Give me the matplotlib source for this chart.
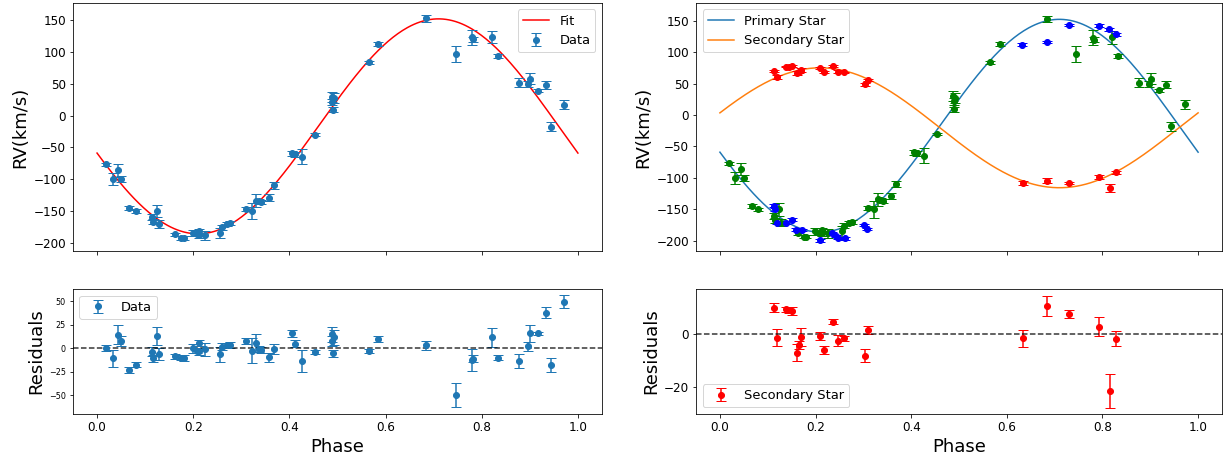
#%%
# =============== RV curve + residuals, primary fit and SB2 fit

import matplotlib.pyplot as plt
import numpy as np

#%%
# primary star data (phase, RV km/s, error, residual from fit)
phase = [0.019, 0.0325, 0.0436, 0.050, 0.067, 0.080, 0.114, 0.1156, 0.1246, 0.128,
         0.1627, 0.175, 0.181, 0.199, 0.2077, 0.2125, 0.213, 0.225, 0.2554, 0.260,
         0.270, 0.2755, 0.309, 0.322, 0.3305, 0.336, 0.341, 0.357, 0.369, 0.405,
         0.4115, 0.4265, 0.4535, 0.488, 0.4895, 0.4925, 0.4903, 0.565, 0.585, 0.685,
         0.7456, 0.780, 0.782, 0.8203, 0.833, 0.877, 0.897, 0.9006, 0.918, 0.933,
         0.943, 0.972]
rv = [-77, -100, -86, -100, -145, -150, -160, -167, -150, -171,
      -187, -193, -193, -185, -187, -182, -188, -188, -185, -176,
      -171, -169.5, -147.5, -150, -134, -135, -136, -129, -110, -59,
      -61, -65, -30, 29.5, 21.7, 27, 9, 83.5, 112.8, 152.6,
      96.6, 122.8, 119.6, 123.3, 94, 51.5, 49.4, 57.8, 39, 48.4,
      -17.6, 17]
rv_err = [3, 9, 10, 5, 3, 3, 5, 4, 10, 6,
          3, 3, 3, 5, 3, 3, 4, 7, 8, 4,
          3, 3, 3, 13, 10, 3, 3, 5, 5, 4,
          4, 12, 2, 8, 5, 8, 4, 2, 3, 5,
          13, 12, 4, 10, 3, 7, 5, 9, 2, 6,
          7, 7]
resid = [0.5, -10.8, 14.3, 7.6, -23.5, -17.5, -3.7, -10.8, 12.9, -6.2,
         -8.7, -10, -10.5, 0, -2.6, 5.5, -3.4, -1, -6.5, 1.6,
         3, 3.7, 7.6, -2.6, 5.5, -0.5, -2, -9.7, -1, 15.7,
         5, -13.5, -4.4, 15, 7.6, 11.5, -5.5, -2.6, 10, 3,
         -50, -12.5, -11.1, 11.5, -10, -13.6, 2, 16, 15.7, 37.7,
         -17.8, 49.3]

# second primary data set (blue in SB2 panel)
phase_b = [0.113, 0.116, 0.120, 0.139, 0.151, 0.160, 0.172, 0.209, 0.235, 0.242,
           0.247, 0.261, 0.301, 0.308, 0.632, 0.685, 0.730, 0.792, 0.814, 0.829]
rv_b = [-144, -150, -171, -171, -166, -182, -183, -199, -188, -192,
        -195, -196, -175, -181, 112, 116, 143, 142, 136, 128]
rv_b_err = [2] * len(phase_b)

# secondary star
phase_s = [0.114, 0.119, 0.139, 0.144, 0.151, 0.161, 0.165, 0.170, 0.210, 0.217,
           0.236, 0.246, 0.260, 0.304, 0.309, 0.633, 0.685, 0.730, 0.793, 0.815,
           0.829]
rv_s = [70, 61, 76.5, 77, 78, 66, 68, 71.5, 74.5, 69,
        78, 69, 68, 49, 56, -107.7, -104.5, -107.7, -98, -115.5,
        -91]
rv_s_err = [1.8, 3.3, 1, 1, 1.5, 3.2, 1.5, 3.5, 1.5, 1.5,
            1, 2, 1, 2.5, 1.5, 3.1, 3.75, 1.6, 3.5, 6.3,
            2.8]
resid_s = [10, -1.25, 9.4, 9.1, 8.6, -6.9, -3.9, -1, -0.6, -6,
           4.75, -2.4, -1.6, -8.1, 1.6, -1.6, 10.75, 7.6, 2.9, -21.4,
           -1.75]

# fit parameters
gamma1, K1 = -17, 169
gamma2, K2 = -20.25, 95.25
phi_max = 0.71

#%%
ph = np.linspace(0, 1, 300)
fit1 = gamma1 + K1*np.cos(2*np.pi*(ph - phi_max))
fit2 = gamma2 - K2*np.cos(2*np.pi*(ph - phi_max))

dpi = 72
fig = plt.figure(figsize=(1231/dpi, 457/dpi), dpi=dpi)
ax1 = fig.add_axes([0.0593, 0.4508, 0.4297, 0.5427])
ax2 = fig.add_axes([0.0593, 0.0941, 0.4297, 0.2735])
ax3 = fig.add_axes([0.5654, 0.4508, 0.4273, 0.5427])
ax4 = fig.add_axes([0.5654, 0.0941, 0.4273, 0.2735])

# ====== left: single fit
ax1.plot(ph, fit1, 'r', label='Fit')
ax1.errorbar(phase, rv, yerr=rv_err, fmt='o', capsize=5, label='Data')
ax1.set_ylabel('RV(km/s)', fontsize=18)
ax1.set_ylim((-213, 177))
ax1.set_yticks(np.arange(-200, 151, 50))
ax1.set_xlim((-0.05, 1.05))
ax1.tick_params(labelbottom=False, labelsize=12)
ax1.legend(loc='upper right', fontsize=13)

ax2.errorbar(phase, resid, yerr=rv_err, fmt='o', capsize=5, label='Data')
ax2.axhline(0, color='k', ls='--', lw=1.5, alpha=0.8)
ax2.set_ylabel('Residuals', fontsize=18)
ax2.set_xlabel('Phase', fontsize=18)
ax2.set_ylim((-70, 63))
ax2.set_yticks([-50, -25, 0, 25, 50])
ax2.set_xlim((-0.05, 1.05))
ax2.tick_params(axis='y', labelsize=8)
ax2.tick_params(axis='x', labelsize=12)
ax2.legend(loc='upper left', fontsize=13)

# ====== right: SB2
ax3.plot(ph, fit1, 'C0', label='Primary Star')
ax3.plot(ph, fit2, 'C1', label='Secondary Star')
ax3.errorbar(phase, rv, yerr=rv_err, fmt='o', color='g', capsize=5)
ax3.errorbar(phase_b, rv_b, yerr=rv_b_err, fmt='o', color='b', capsize=5)
ax3.errorbar(phase_s, rv_s, yerr=rv_s_err, fmt='o', color='r', capsize=5)
ax3.set_ylabel('RV(km/s)', fontsize=18)
ax3.set_ylim((-216, 178))
ax3.set_yticks(np.arange(-200, 151, 50))
ax3.set_xlim((-0.05, 1.05))
ax3.tick_params(labelbottom=False, labelsize=12)
ax3.legend(loc='upper left', fontsize=13)

ax4.errorbar(phase_s, resid_s, yerr=rv_s_err, fmt='o', color='r', capsize=5, label='Secondary Star')
ax4.axhline(0, color='k', ls='--', lw=1.5, alpha=0.8)
ax4.set_ylabel('Residuals', fontsize=18)
ax4.set_xlabel('Phase', fontsize=18)
ax4.set_ylim((-30, 17))
ax4.set_yticks([-20, 0])
ax4.set_xlim((-0.05, 1.05))
ax4.tick_params(labelsize=12)
ax4.legend(loc='lower left', fontsize=13)

for ax in (ax1, ax2, ax3, ax4):
    ax.set_xticks(np.arange(0, 1.01, 0.2))

plt.savefig('out.png', dpi=dpi)
